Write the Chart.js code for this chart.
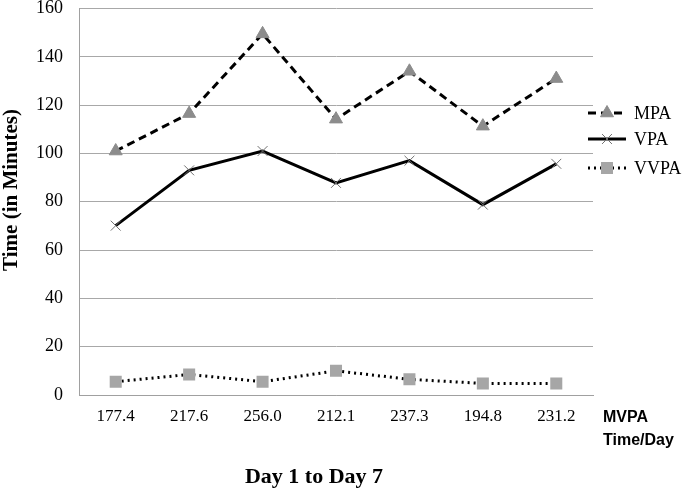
<!DOCTYPE html>
<html><head><meta charset="utf-8">
<script src="https://cdn.jsdelivr.net/npm/chart.js@4/dist/chart.umd.min.js"></script>
<style>html,body{margin:0;padding:0;background:#fff}#wrap{width:685px;height:489px}</style>
</head><body><div id="wrap"><canvas id="c" width="685" height="489"></canvas></div>
<script>
const categories = ["177.4","217.6","256.0","212.1","237.3","194.8","231.2"];
const mpa  = [101, 116.5, 149.5, 114.2, 134, 111.3, 131];
const vpa  = [70.1, 93, 101, 87.8, 97, 78.8, 95.7];
const vvpa = [5.5, 8.5, 5.5, 10, 6.5, 4.8, 4.8];
const yTicks = [0,20,40,60,80,100,120,140,160];

const seriesStyle = [
  {label:"MPA", data:mpa, borderDash:[8,5], pointStyle:'triangle', pointRadius:7.5, pointBackgroundColor:'#8c8c8c', pointBorderColor:'#8c8c8c', pointBorderWidth:1},
  {label:"VPA", data:vpa, borderDash:[], pointStyle:'crossRot', pointRadius:7, pointBackgroundColor:'#707070', pointBorderColor:'#707070', pointBorderWidth:1},
  {label:"VVPA", data:vvpa, borderDash:[2,4], pointStyle:'rect', pointRadius:8.5, pointBackgroundColor:'#a6a6a6', pointBorderColor:'#a6a6a6', pointBorderWidth:0}
];

const extras = {
  id:'extras',
  afterDraw(chart){
    const ctx = chart.ctx;
    ctx.save();
    ctx.fillStyle='#000';
    ctx.font='bold 21px "Liberation Serif", "Times New Roman", serif';
    ctx.textAlign='center'; ctx.textBaseline='middle';
    ctx.translate(12,190);
    ctx.rotate(-Math.PI/2);
    ctx.fillText('Time (in Minutes)',0,0);
    ctx.restore();
    ctx.save();
    ctx.fillStyle='#000';
    ctx.font='bold 22px "Liberation Serif", "Times New Roman", serif';
    ctx.textAlign='center'; ctx.textBaseline='middle';
    ctx.fillText('Day 1 to Day 7',314,477);
    ctx.font='bold 16px "Liberation Sans", Arial, sans-serif';
    ctx.textAlign='left';
    ctx.fillText('MVPA',603,418);
    ctx.fillText('Time/Day',603,441);
    const ys=[113,139,168];
    chart.data.datasets.forEach((ds,i)=>{
      const y=ys[i];
      ctx.save();
      ctx.strokeStyle='#000'; ctx.lineWidth=3; ctx.setLineDash(ds.borderDash||[]);
      ctx.beginPath(); ctx.moveTo(588,y); ctx.lineTo(626,y); ctx.stroke();
      ctx.setLineDash([]);
      ctx.fillStyle=ds.pointBackgroundColor; ctx.strokeStyle=ds.pointBorderColor; ctx.lineWidth=ds.pointBorderWidth||0.001;
      Chart.helpers.drawPoint(ctx,{pointStyle:ds.pointStyle,radius:ds.pointRadius,borderWidth:ds.pointBorderWidth,rotation:0},607,y);
      ctx.restore();
      ctx.fillStyle='#000';
      ctx.font='18px "Liberation Serif", "Times New Roman", serif';
      ctx.textAlign='left'; ctx.textBaseline='middle';
      ctx.fillText(ds.label,634,y+1);
    });
    ctx.restore();
  }
};

new Chart(document.getElementById('c'),{
  type:'line',
  data:{labels:categories, datasets:seriesStyle.map(s=>Object.assign({borderColor:'#000',borderWidth:3,fill:false,tension:0,pointHoverRadius:s.pointRadius},s))},
  options:{
    responsive:false, animation:false,
    layout:{padding:{left:0,right:92,top:7,bottom:0}},
    plugins:{legend:{display:false},tooltip:{enabled:false}},
    scales:{
      x:{offset:true,
        grid:{display:false,drawTicks:false},
        border:{display:true,color:'#a0a0a0',width:1},
        ticks:{padding:11,color:'#000',font:{family:'"Liberation Serif", "Times New Roman", serif',size:17}},
        afterFit(s){s.height=94; s.paddingLeft=0; s.paddingRight=0;}
      },
      y:{min:0,max:160,
        afterBuildTicks(s){s.ticks=yTicks.map(v=>({value:v}));},
        grid:{color:'#a8a8a8',lineWidth:1,drawTicks:false},
        border:{display:true,color:'#a0a0a0',width:1},
        ticks:{padding:16,color:'#000',font:{family:'"Liberation Serif", "Times New Roman", serif',size:18}},
        afterFit(s){s.width=79; s.paddingTop=0; s.paddingBottom=0;}
      }
    }
  },
  plugins:[extras]
});
</script></body></html>
